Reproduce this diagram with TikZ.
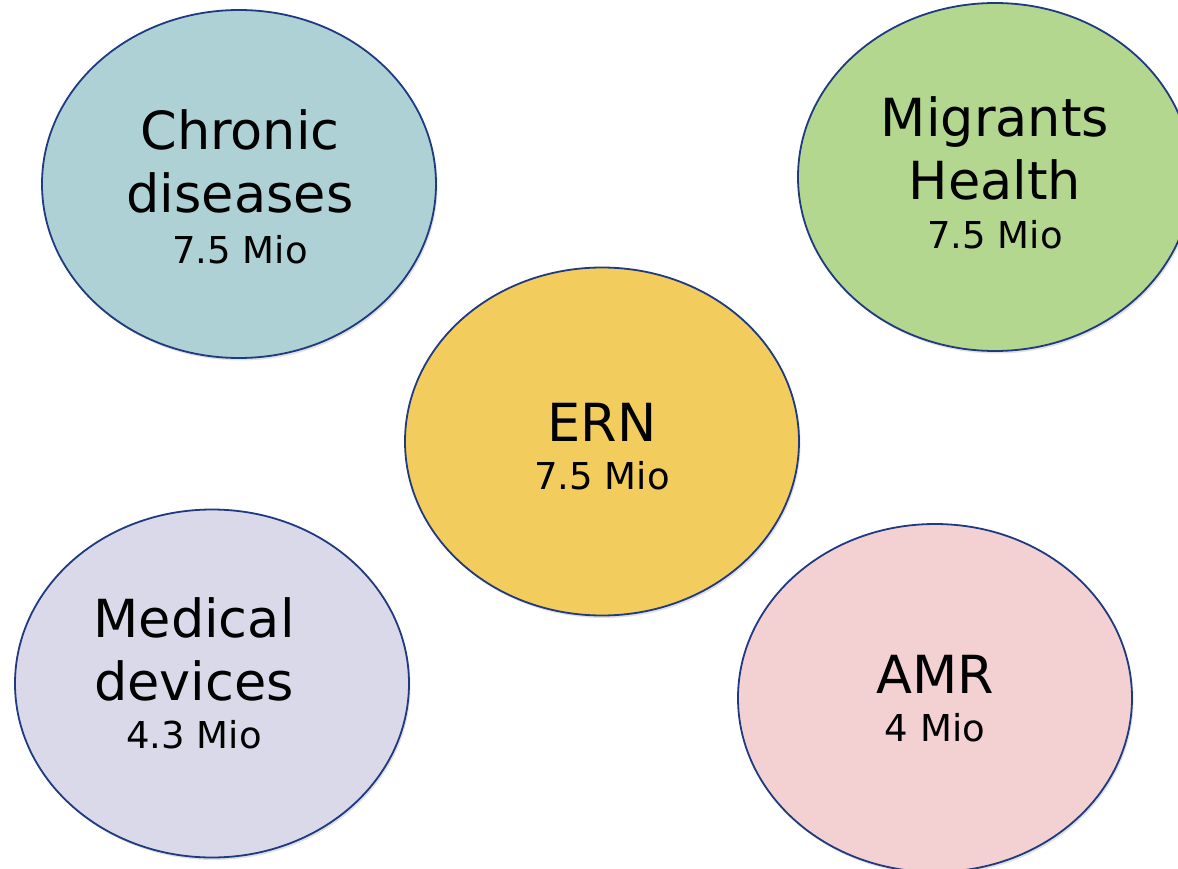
\documentclass[tikz,border=0pt]{standalone}
\usepackage{fontspec}
\setmainfont{DejaVu Sans}
\usetikzlibrary{shapes.geometric,shadows}
\definecolor{edgeblue}{HTML}{1F3A80}
\definecolor{cteal}{HTML}{AED1D5}
\definecolor{cgreen}{HTML}{B3D78F}
\definecolor{cyellow}{HTML}{F2CD5D}
\definecolor{clilac}{HTML}{D9D9EA}
\definecolor{cpink}{HTML}{F3D1D2}
\tikzset{
  blob/.style={ellipse, draw=edgeblue, line width=1.8pt, minimum width=394pt, minimum height=348pt, inner sep=0pt,
    drop shadow={shadow xshift=1.5pt, shadow yshift=-2.5pt, opacity=0.12, fill=black}},
  bigtxt/.style={anchor=base, inner sep=0pt, font=\fontsize{52.5}{63}\selectfont},
  smalltxt/.style={anchor=base, inner sep=0pt, font=\fontsize{37}{44}\selectfont}
}
\begin{document}
\begin{tikzpicture}[x=1pt,y=-1pt]
\useasboundingbox[fill=white] (0,0) rectangle (1178,869);
\begin{scope}
\clip (0,0) rectangle (1178,869);
\node[blob, fill=cteal] (chronic) at (239,184) {};
\node[blob, fill=cgreen] (migrants) at (995,177) {};
\node[blob, fill=cyellow] (ern) at (602,441.5) {};
\node[blob, fill=clilac] (medical) at (212,683.5) {};
\node[blob, fill=cpink] (amr) at (935,698) {};
\end{scope}
% texts
\node[bigtxt] (t1a) at (240,150) {Chronic};
\node[bigtxt] (t1b) at (240,213) {diseases};
\node[smalltxt] (t1c) at (240,263) {7.5 Mio};
\node[bigtxt] (t2a) at (995,137) {Migrants};
\node[bigtxt] (t2b) at (995,200) {Health};
\node[smalltxt] (t2c) at (995,248) {7.5 Mio};
\node[bigtxt] (t3a) at (602,441) {ERN};
\node[smalltxt] (t3b) at (602,489) {7.5 Mio};
\node[bigtxt] (t4a) at (194,637) {Medical};
\node[bigtxt] (t4b) at (194,700) {devices};
\node[smalltxt] (t4c) at (194,748) {4.3 Mio};
\node[bigtxt] (t5a) at (935,693) {AMR};
\node[smalltxt] (t5b) at (935,741) {4 Mio};
\end{tikzpicture}
\end{document}
